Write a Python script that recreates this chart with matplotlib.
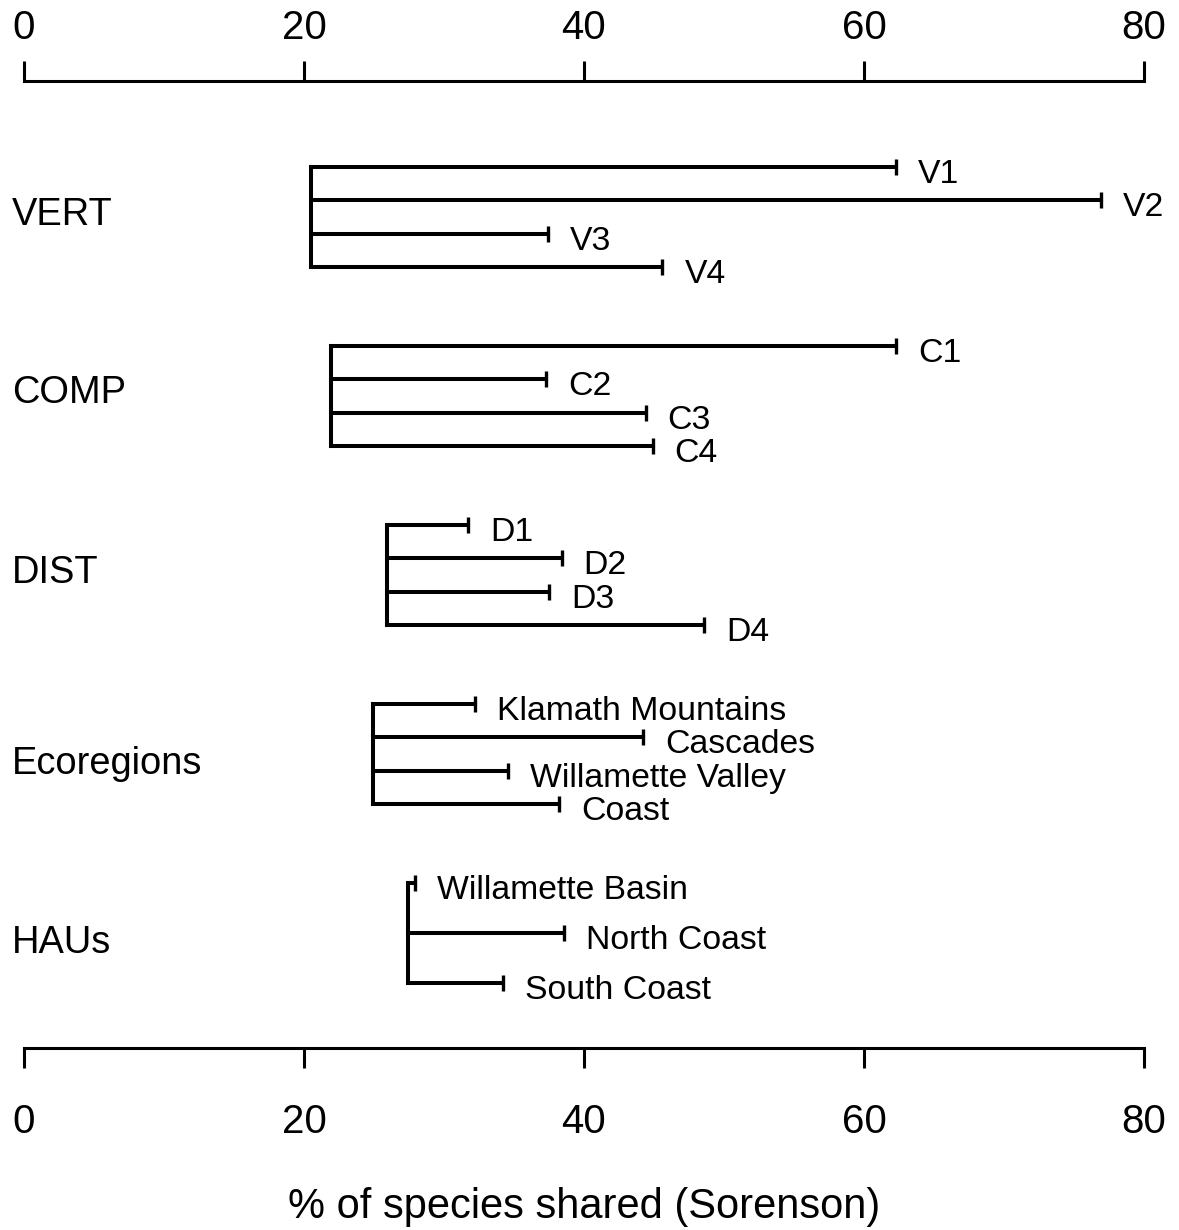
import matplotlib.pyplot as plt

plt.rcParams['font.family'] = ['Liberation Sans', 'DejaVu Sans']

# groups and the value where each group's bracket starts
groups = ['VERT', 'COMP', 'DIST', 'Ecoregions', 'HAUs']
group_base = [20.5, 21.9, 25.9, 24.9, 27.4]

vert_names = ['V1', 'V2', 'V3', 'V4']
vert_vals = [62.3, 76.9, 37.4, 45.6]

comp_names = ['C1', 'C2', 'C3', 'C4']
comp_vals = [62.3, 37.3, 44.4, 44.9]

dist_names = ['D1', 'D2', 'D3', 'D4']
dist_vals = [31.7, 38.4, 37.5, 48.6]

eco_names = ['Klamath Mountains', 'Cascades', 'Willamette Valley', 'Coast']
eco_vals = [32.2, 44.2, 34.6, 38.2]

hau_names = ['Willamette Basin', 'North Coast', 'South Coast']
hau_vals = [27.9, 38.6, 34.2]

x_ticks = [0, 20, 40, 60, 80]
x_label = '% of species shared (Sorenson)'

names = [vert_names, comp_names, dist_names, eco_names, hau_names]
vals = [vert_vals, comp_vals, dist_vals, eco_vals, hau_vals]

W, H = 1179, 1230
fig = plt.figure(figsize=(W / 100, H / 100), dpi=100)
ax = fig.add_axes([24 / W, 1 - 1048 / H, 1120 / W, 967 / H])
ax.set_xlim(0, 80)
ax.set_ylim(1048, 81)  # y in pixels from the top of the figure

lw = 2.9
first_row, group_gap, group_span = 167, 179, 100
label_drop = [8, 7, 8, 20, 20]

for i, g in enumerate(groups):
    n = len(vals[i])
    top = first_row + i * group_gap
    ys = [top + j * group_span / (n - 1) for j in range(n)]
    base = group_base[i]
    ax.vlines(base, ys[0], ys[-1], color='black', lw=lw, capstyle='projecting')
    ax.hlines(ys, base, vals[i], color='black', lw=lw, capstyle='projecting')
    ax.plot(vals[i], ys, ls='none', marker='|', ms=11.3, mew=2.4, color='black')
    for name, v, y in zip(names[i], vals[i], ys):
        ax.annotate(name, (v, y), xytext=(22, -16), textcoords='offset pixels',
                    ha='left', va='baseline', fontsize=24.3)
    center = (ys[0] + ys[-1]) / 2
    ax.annotate(g, (0, center), xytext=(-12, -label_drop[i]), textcoords='offset pixels',
                ha='left', va='baseline', fontsize=27.4, annotation_clip=False)

for s in ['top', 'left', 'right']:
    ax.spines[s].set_visible(False)
ax.spines['bottom'].set_linewidth(2.2)
ax.set_yticks([])
ax.set_xticks(x_ticks)
ax.tick_params(axis='x', direction='out', length=14.4, width=2.2, pad=25, labelsize=29)

ax2 = ax.twiny()
ax2.set_xlim(0, 80)
ax2.set_xticks(x_ticks)
for s in ['bottom', 'left', 'right']:
    ax2.spines[s].set_visible(False)
ax2.spines['top'].set_linewidth(2.2)
ax2.tick_params(axis='x', direction='out', length=14.4, width=2.2, pad=10, labelsize=29)

fig.text(584 / W, 1 - 1218 / H, x_label, ha='center', va='baseline', fontsize=30)

fig.savefig('out.png', dpi=100)
